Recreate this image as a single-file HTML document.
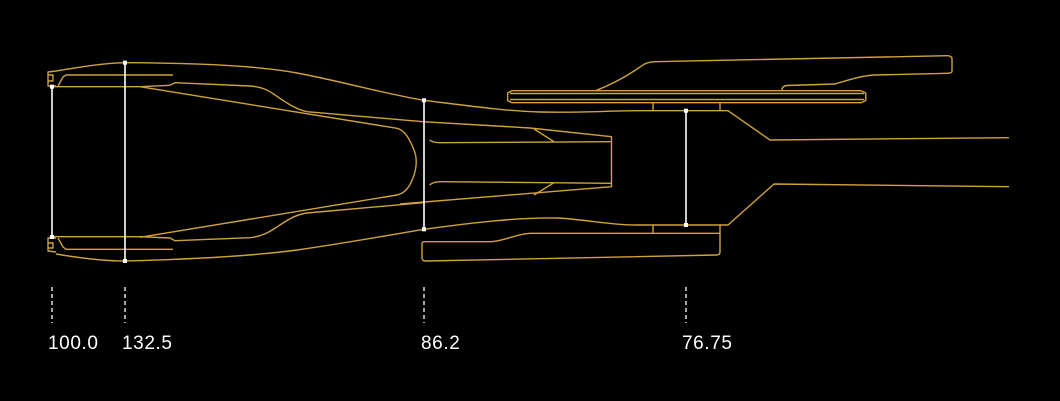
<!DOCTYPE html>
<html><head><meta charset="utf-8"><style>
html,body{margin:0;padding:0;background:#000;}
svg{display:block}
text{font-family:"Liberation Sans",sans-serif;font-size:19px;letter-spacing:0.6px;fill:#fff}
</style></head><body>
<svg width="1060" height="401" viewBox="0 0 1060 401" xmlns="http://www.w3.org/2000/svg">
<rect width="1060" height="401" fill="#000"/>
<g fill="none" stroke="#cfa33a" stroke-width="1.4" stroke-linejoin="round">
<path d="M56,71 L48,72 V86 H56 M48,75 H53 V81 H48"/>
<path d="M56,252 L48,251 V238 H56 M48,243 H53 V248 H48"/>
<path d="M56,71 C80,67 105,63 125,62.7 C200,63 260,66 297,73 C340,81 390,95 424,100.3 C470,106 505,111 540,112 C580,113 600,111 637,110.7 L728,110.7 L770,140 L1009,137.7"/>
<path d="M56,254 C80,258 105,261 125,261 C200,259 260,255 297,250 C340,244 390,235 424,229.3 C470,223 520,217 558,218 C590,220 610,225 637,225 L728,225 L774,184 L1009,186.7"/>
<path d="M52,86.7 H140 L170,85.3 L175,82.7 L250,86 C262,87 268,90 272,93 C285,102 295,109 307,111.7 L423,121.7 L530,128 L611.5,136.7 L611.5,186.7 L400,204"/>
<path d="M58,86 L63,77 L66,75 H173"/>
<path d="M58,238 L63,247 L66,249.3 H173"/>
<path d="M52,236.7 H140 L170,238 L175,240.7 L250,237.7 C265,236 272,230 280,225 C290,218 298,214 307,213 L423,202.7"/>
<path d="M140,86.7 L397,128.3 C405,130 410,140 414,150 C418,160 416,170 413,178 C409,188 405,193 397,195 L140,237.3"/>
<path d="M429.6,140 C432,142 436,142.7 440,142.7 L611.5,141.7"/>
<path d="M429.6,185 C432,183 436,181.7 440,181.7 L611.5,183.3"/>
<path d="M534,129 L554,141.7 M534,195 L554,182.7"/>
<path d="M512,90.7 L861,90.7 L865.8,93 V100.5 L861,102.7 L512,102.7 L507.6,100.5 V93 Z"/>
<path d="M510,93.5 H864 M510,99.5 H864"/>
<path d="M653,102.7 V110.7 M720,102.7 V110.7"/>
<path d="M595.7,90.7 C615,83 630,74 640,67 C645,63 650,61.7 655,61.7 L947,55.7 Q952,55.7 952,59 V71 Q952,73.3 947,73.3 L874.5,75 C860,76 848,80 835,84 L787,85.5 Q782,86 782,90"/>
<path d="M653,225 V233.3 M720,225 V233.3"/>
<path d="M424,241.7 L491,241.7 C505,241 515,234 530.5,233.3 L720,233.3 V252 Q720,255 716,255 L426,261 Q422,261 422,258 V244 Q422,241.7 424,241.7"/>
</g>
<g stroke="#fff" stroke-width="1.6">
<line x1="52" y1="86.7" x2="52" y2="237"/>
<line x1="125" y1="62.7" x2="125" y2="261"/>
<line x1="424" y1="100.3" x2="424" y2="229.3"/>
<line x1="686" y1="110.7" x2="686" y2="225"/>
</g>
<g fill="#fff">
<rect x="50" y="84.7" width="4" height="4"/><rect x="50" y="235" width="4" height="4"/>
<rect x="123" y="60.7" width="4" height="4"/><rect x="123" y="259" width="4" height="4"/>
<rect x="422" y="98.3" width="4" height="4"/><rect x="422" y="227.3" width="4" height="4"/>
<rect x="684" y="108.7" width="4" height="4"/><rect x="684" y="223" width="4" height="4"/>
</g>
<g stroke="#fff" stroke-width="1.3" stroke-dasharray="4,3">
<line x1="52" y1="287" x2="52" y2="323"/>
<line x1="125" y1="287" x2="125" y2="323"/>
<line x1="424" y1="287" x2="424" y2="323"/>
<line x1="686" y1="287" x2="686" y2="323"/>
</g>
<text x="48" y="349">100.0</text>
<text x="122" y="349">132.5</text>
<text x="421" y="349">86.2</text>
<text x="682" y="349">76.75</text>
</svg>
</body></html>
